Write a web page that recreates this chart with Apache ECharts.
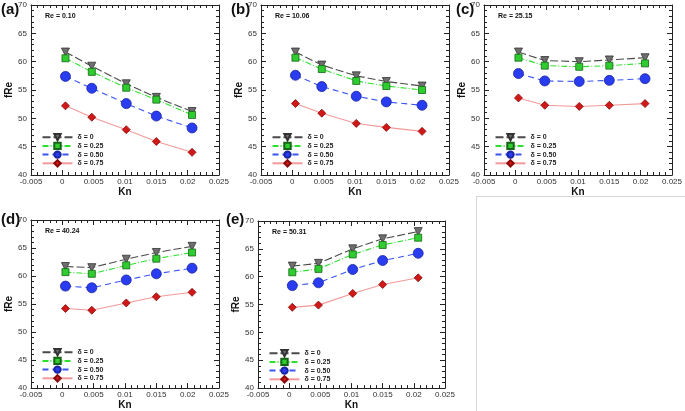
<!DOCTYPE html>
<html>
<head>
<meta charset="utf-8">
<script src="https://cdn.jsdelivr.net/npm/echarts@6/dist/echarts.min.js"></script>
<style>
html, body { margin: 0; padding: 0; background: #fff; }
#chart { width: 685px; height: 411px; }
</style>
</head>
<body>
<div id="chart"></div>
<script>
// Kn positions shared by every panel
const kn = [0.0005, 0.0047, 0.0102, 0.015, 0.0207];
const deltaNames = ['δ = 0', 'δ = 0.25', 'δ = 0.50', 'δ = 0.75'];
const panelTags = ['(a)', '(b)', '(c)', '(d)', '(e)'];
const reLabels = ['Re = 0.10', 'Re = 10.06', 'Re = 25.15', 'Re = 40.24', 'Re = 50.31'];
const xTicks = [-0.005, 0, 0.005, 0.01, 0.015, 0.02, 0.025];
const yTicks = [40, 45, 50, 55, 60, 65, 70];

// fRe values, one row per delta (0, 0.25, 0.50, 0.75)
const fReA = [
    [61.7, 59.2, 56.1, 53.7, 51.2],
    [60.6, 58.2, 55.4, 53.3, 50.6],
    [57.4, 55.3, 52.6, 50.4, 48.3],
    [52.2, 50.2, 48.0, 45.9, 44.0]
];
const fReB = [
    [61.7, 59.4, 57.5, 56.5, 55.7],
    [60.7, 58.7, 56.6, 55.7, 55.0],
    [57.6, 55.6, 53.9, 52.9, 52.3],
    [52.6, 50.9, 49.1, 48.4, 47.7]
];
const fReC = [
    [61.7, 60.2, 60.0, 60.3, 60.7],
    [60.7, 59.3, 59.1, 59.3, 59.7],
    [57.9, 56.6, 56.5, 56.7, 57.0],
    [53.6, 52.3, 52.1, 52.3, 52.6]
];
const fReD = [
    [61.7, 61.5, 63.0, 64.2, 65.3],
    [60.7, 60.4, 61.9, 63.1, 64.2],
    [58.2, 57.9, 59.3, 60.4, 61.4],
    [54.2, 53.9, 55.2, 56.3, 57.1]
];
const fReE = [
    [61.9, 62.4, 65.0, 66.8, 68.1],
    [60.8, 61.4, 64.0, 65.7, 67.0],
    [58.4, 58.9, 61.3, 62.9, 64.2],
    [54.5, 54.9, 57.0, 58.6, 59.8]
];
const panels = [fReA, fReB, fReC, fReD, fReE];

// plot boxes in pixels
const boxes = [
    { l: 31, t: 5, w: 188, h: 170 },
    { l: 261, t: 5, w: 188, h: 170 },
    { l: 484, t: 5, w: 189, h: 170 },
    { l: 31, t: 220, w: 188, h: 172 },
    { l: 258, t: 221, w: 187, h: 172 }
];

const styles = [
    { symbol: 'triangle', rotate: 180, size: 8, fill: '#6e6e6e', border: '#333', line: '#4a4a4a', dash: [8, 3] },
    { symbol: 'rect', rotate: 0, size: 7, fill: '#2fcc2f', border: '#146614', line: '#2ee02e', dash: [6, 2, 1, 2] },
    { symbol: 'circle', rotate: 0, size: 10, fill: '#2a3cf0', border: '#1a26a0', line: '#3a55f0', dash: [6, 4] },
    { symbol: 'diamond', rotate: 0, size: 8, fill: '#d01818', border: '#8a0a0a', line: '#f29a9a', dash: 'solid' }
];

const fmt = v => String(parseFloat(v.toFixed(4)));
const axisLine = { onZero: false, lineStyle: { color: '#222', width: 1 } };
const tickLabel = { fontSize: 8, color: '#333', fontFamily: 'Liberation Sans' };

let grid = [], xAxis = [], yAxis = [], series = [], legend = [], title = [];

panels.forEach((vals, p) => {
    const b = boxes[p];
    grid.push({ left: b.l, top: b.t, width: b.w, height: b.h });
    const xBase = {
        gridIndex: p, type: 'value', min: xTicks[0], max: xTicks[xTicks.length - 1], interval: 0.005,
        axisLine: axisLine, splitLine: { show: false },
        axisTick: { inside: true, length: 5, lineStyle: { color: '#222' } },
        minorTick: { show: true, splitNumber: 5, length: 3, lineStyle: { color: '#222' } }
    };
    xAxis.push(Object.assign({}, xBase, {
        position: 'bottom', name: 'Kn', nameLocation: 'middle', nameGap: 10,
        nameTextStyle: { fontSize: 10, fontWeight: 'bold', color: '#111', fontFamily: 'Liberation Sans' },
        axisLabel: Object.assign({ margin: 3, formatter: fmt }, tickLabel)
    }));
    xAxis.push(Object.assign({}, xBase, { position: 'top', axisLabel: { show: false } }));
    const yBase = {
        gridIndex: p, type: 'value', min: yTicks[0], max: yTicks[yTicks.length - 1], interval: 5,
        axisLine: axisLine, splitLine: { show: false },
        axisTick: { inside: true, length: 5, lineStyle: { color: '#222' } },
        minorTick: { show: true, splitNumber: 5, length: 3, lineStyle: { color: '#222' } }
    };
    yAxis.push(Object.assign({}, yBase, {
        position: 'left', name: 'fRe', nameLocation: 'middle', nameGap: 12,
        nameTextStyle: { fontSize: 10, fontWeight: 'bold', color: '#111', fontFamily: 'Liberation Sans' },
        axisLabel: Object.assign({ margin: 4 }, tickLabel)
    }));
    yAxis.push(Object.assign({}, yBase, { position: 'right', axisLabel: { show: false } }));

    vals.forEach((row, d) => {
        const s = styles[d];
        series.push({
            type: 'line', name: deltaNames[d], xAxisIndex: 2 * p, yAxisIndex: 2 * p,
            data: row.map((v, i) => [kn[i], v]),
            symbol: s.symbol, symbolSize: s.size, symbolRotate: s.rotate, showAllSymbol: true,
            itemStyle: { color: s.fill, borderColor: s.border, borderWidth: 0.8 },
            lineStyle: { color: s.line, width: 1.1, type: s.dash },
            z: 2 + d, silent: true
        });
    });

    legend.push({
        data: deltaNames, orient: 'vertical', left: b.l + 10.5, top: b.t + 128,
        itemWidth: 30, itemHeight: 8, itemGap: 0.3, padding: 0, selectedMode: false,
        textStyle: { fontSize: 7, fontWeight: 'bold', color: '#222', lineHeight: 8, fontFamily: 'Liberation Sans' }
    });

    title.push({
        text: panelTags[p], left: b.l - 30, top: b.t - 3, padding: 0,
        textStyle: { fontSize: 15, fontWeight: 'bold', color: '#111', fontFamily: 'Liberation Sans' }
    });
    title.push({
        text: reLabels[p], left: b.l + 14, top: b.t + 8, padding: 0,
        textStyle: { fontSize: 7, fontWeight: 'bold', color: '#111', fontFamily: 'Liberation Sans' }
    });
});

// panel tags sit a little differently in the reference
title[2].left = 231; title[4].left = 456; title[8].left = 226;
title[6].top = 212; title[8].top = 212;

const myChart = echarts.init(document.getElementById('chart'));
myChart.setOption({
    animation: false,
    backgroundColor: '#fff',
    title: title,
    grid: grid,
    xAxis: xAxis,
    yAxis: yAxis,
    legend: legend,
    series: series,
    graphic: [
        { type: 'line', shape: { x1: 476.5, y1: 197, x2: 476.5, y2: 411 }, style: { stroke: '#d8d8d8', lineWidth: 1 } },
        { type: 'line', shape: { x1: 476, y1: 196.5, x2: 685, y2: 196.5 }, style: { stroke: '#d8d8d8', lineWidth: 1 } }
    ]
});
</script>
</body>
</html>
